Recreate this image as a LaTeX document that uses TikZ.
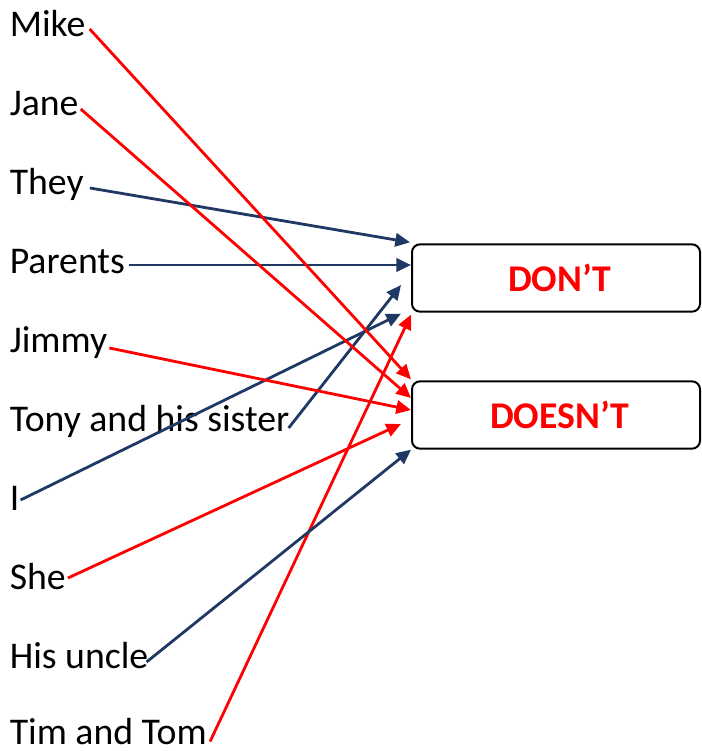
\documentclass[tikz,border=0pt]{standalone}
\usepackage{fontspec}
\setmainfont{Carlito}
\usetikzlibrary{arrows.meta,calc}
\definecolor{navy}{RGB}{31,56,100}
\definecolor{rd}{RGB}{255,0,0}
\tikzset{
  lbl/.style={anchor=base west,inner sep=0pt,font=\fontsize{28.3}{34}\selectfont},
  ansbox/.style={draw=black,line width=1.5pt,rounded corners=6pt,minimum width=216pt,minimum height=50.5pt,inner sep=0pt,text=rd,font=\fontsize{28.3}{34}\selectfont\bfseries},
  conn/.style={line width=2.1pt,-{Triangle[length=11pt,width=10pt]}},
  navyc/.style={conn,draw=navy,color=navy},
  redc/.style={conn,draw=rd,color=rd}
}
\begin{document}
\begin{tikzpicture}[x=0.75pt,y=-0.75pt]
\useasboundingbox (0,0) rectangle (701,751);
\node[ansbox] (dont) at (556,278) {\hspace*{5.5pt}DON’T};
\node[ansbox] (doesnt) at (556,415) {\hspace*{5.5pt}DOESN’T};
\node[lbl] (mike) at (9.5,36) {Mike};
\node[lbl] (jane) at (9.5,115) {Jane};
\node[lbl] (they) at (9.5,194) {They};
\node[lbl] (parents) at (9.5,273) {Parents};
\node[lbl] (jimmy) at (9.5,352) {Jimmy};
\node[lbl] (tony) at (9.5,431) {Tony and his sister};
\node[lbl] (i) at (9.5,510) {I};
\node[lbl] (she) at (9.5,589) {She};
\node[lbl] (uncle) at (9.5,668) {His uncle};
\node[lbl] (tim) at (9.5,744.5) {Tim and Tom};
% connectors to DON'T
\draw[navyc] ($(they.base east)+(6,-6)$) -- ($(dont.north west)+(-1,-1)$);
\draw[navyc] ($(parents.base east)+(4,-8)$) -- ($(dont.west)+(0,-13)$);
\draw[navyc] ($(tony.base east)+(-1,-3)$) -- ($(dont.west)+(-10,7)$);
\draw[navyc] ($(i.base east)+(1,-10)$) -- ($(dont.south west)+(-10,1)$);
\draw[redc] ($(tim.base east)+(3,-3)$) -- ($(dont.south west)+(0,2)$);
% connectors to DOESN'T
\draw[redc] ($(mike.base east)+(4,-7)$) -- ($(doesnt.north west)+(0,-1)$);
\draw[redc] ($(jane.base east)+(2,-6)$) -- ($(doesnt.west)+(0,-17)$);
\draw[redc] ($(jimmy.base east)+(2,-4)$) -- ($(doesnt.west)+(0,-5)$);
\draw[redc] ($(she.base east)+(2,-11)$) -- ($(doesnt.west)+(-10,9)$);
\draw[navyc] ($(uncle.base east)+(-2,-6)$) -- ($(doesnt.south west)+(0,0)$);
\end{tikzpicture}
\end{document}
